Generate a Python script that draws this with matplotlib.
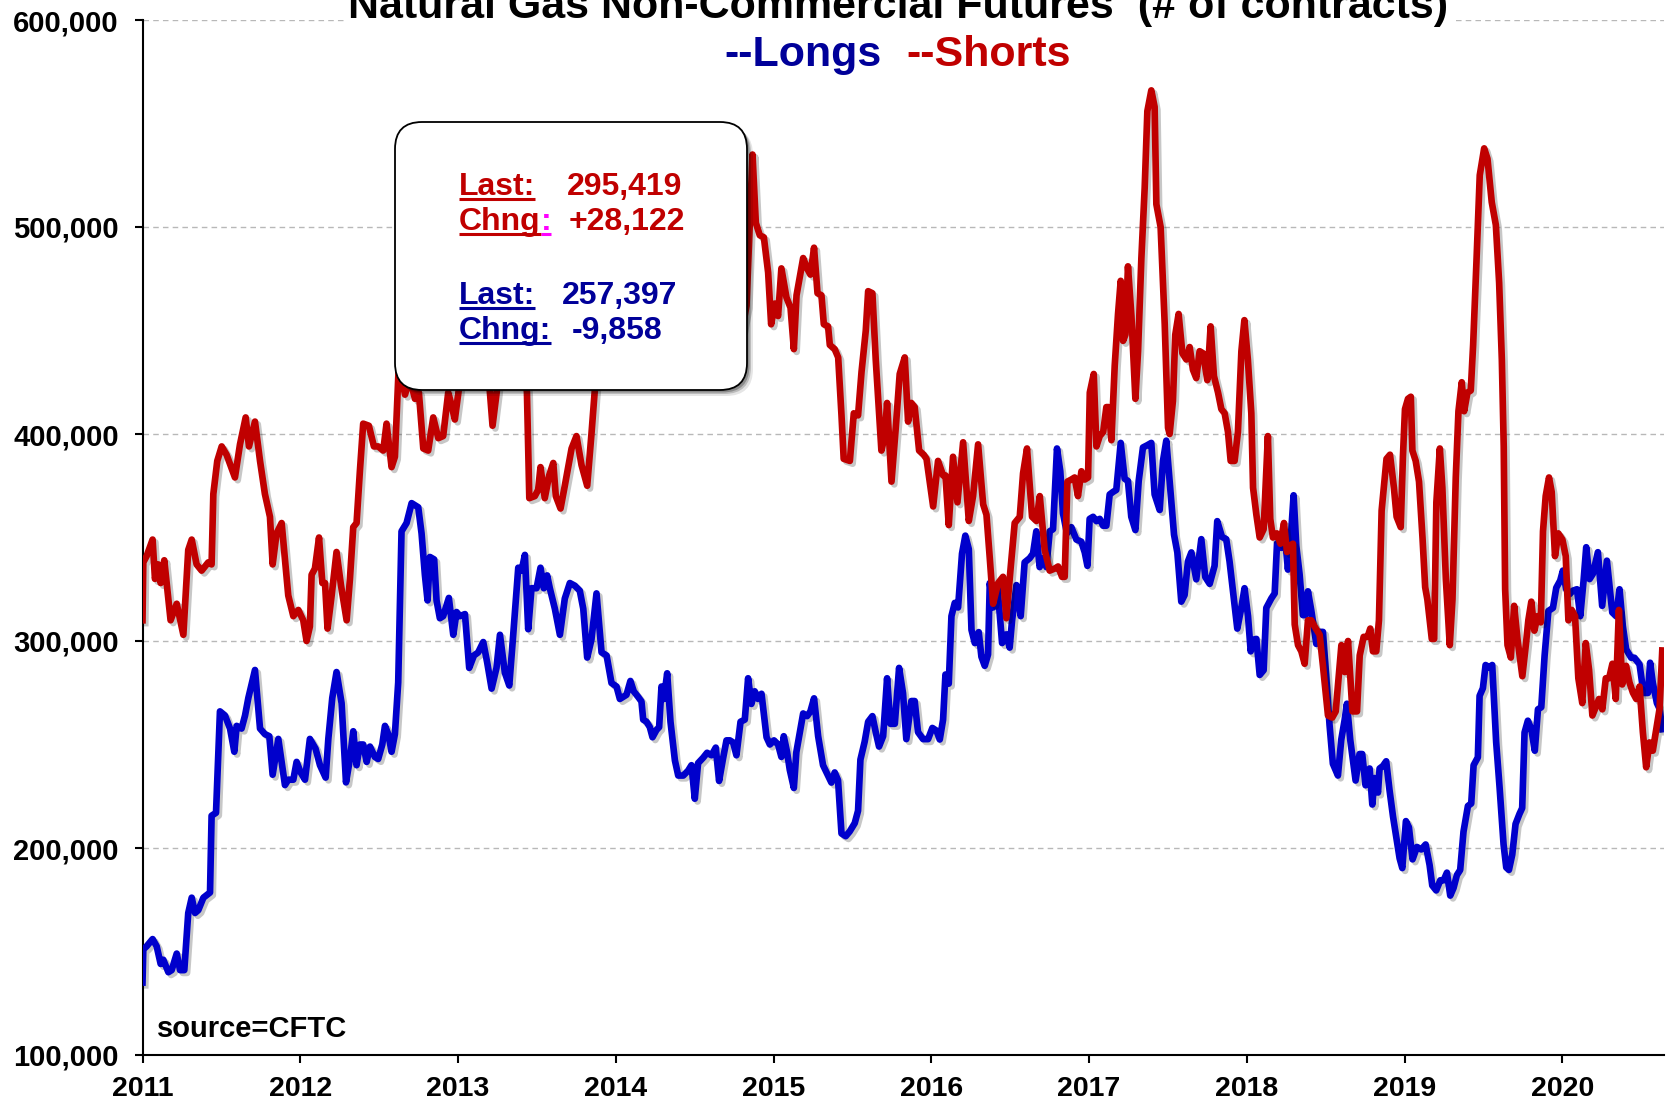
import matplotlib
matplotlib.use('Agg')
import matplotlib.pyplot as plt
from matplotlib.patches import FancyBboxPatch
from matplotlib.lines import Line2D
import matplotlib.patheffects as pe
from matplotlib.ticker import FuncFormatter

# ---------------- data (decimal year, thousands of contracts) ----------------
short_t = [2011.000, 2011.005, 2011.026, 2011.064, 2011.079, 2011.100, 2011.115, 2011.138, 2011.164, 2011.178,
           2011.217, 2011.259, 2011.290, 2011.312, 2011.343, 2011.375, 2011.417, 2011.438, 2011.449, 2011.474,
           2011.502, 2011.533, 2011.586, 2011.618, 2011.654, 2011.675, 2011.713, 2011.745, 2011.776, 2011.808,
           2011.825, 2011.850, 2011.882, 2011.924, 2011.956, 2011.988, 2012.019, 2012.040, 2012.061, 2012.072,
           2012.093, 2012.119, 2012.140, 2012.157, 2012.173, 2012.199, 2012.230, 2012.258, 2012.294, 2012.315,
           2012.336, 2012.357, 2012.378, 2012.399, 2012.435, 2012.467, 2012.494, 2012.526, 2012.547, 2012.579,
           2012.600, 2012.625, 2012.664, 2012.695, 2012.727, 2012.752, 2012.780, 2012.811, 2012.843, 2012.875,
           2012.906, 2012.938, 2012.959, 2012.980, 2013.006, 2013.040, 2013.075, 2013.100, 2013.130, 2013.160,
           2013.190, 2013.219, 2013.245, 2013.270, 2013.300, 2013.330, 2013.360, 2013.390, 2013.420, 2013.437,
           2013.452, 2013.487, 2013.508, 2013.523, 2013.550, 2013.578, 2013.604, 2013.620, 2013.650, 2013.677,
           2013.720, 2013.751, 2013.783, 2013.819, 2013.846, 2013.868, 2013.910, 2013.950, 2014.000, 2014.050,
           2014.100, 2014.150, 2014.200, 2014.250, 2014.300, 2014.350, 2014.400, 2014.450, 2014.500, 2014.550,
           2014.600, 2014.650, 2014.700, 2014.750, 2014.800, 2014.829, 2014.867, 2014.888, 2014.913, 2014.939,
           2014.966, 2014.985, 2015.008, 2015.029, 2015.050, 2015.082, 2015.108, 2015.129, 2015.146, 2015.167,
           2015.188, 2015.213, 2015.234, 2015.257, 2015.279, 2015.304, 2015.319, 2015.346, 2015.357, 2015.388,
           2015.410, 2015.431, 2015.445, 2015.484, 2015.509, 2015.536, 2015.558, 2015.585, 2015.600, 2015.627,
           2015.648, 2015.684, 2015.705, 2015.720, 2015.748, 2015.775, 2015.800, 2015.832, 2015.853, 2015.874,
           2015.895, 2015.923, 2015.952, 2015.970, 2016.012, 2016.043, 2016.075, 2016.090, 2016.111, 2016.138,
           2016.166, 2016.202, 2016.238, 2016.265, 2016.297, 2016.329, 2016.350, 2016.371, 2016.392, 2016.424,
           2016.455, 2016.476, 2016.504, 2016.529, 2016.561, 2016.582, 2016.607, 2016.639, 2016.667, 2016.688,
           2016.719, 2016.751, 2016.783, 2016.804, 2016.829, 2016.846, 2016.863, 2016.888, 2016.909, 2016.930,
           2016.952, 2016.973, 2016.994, 2017.005, 2017.030, 2017.047, 2017.068, 2017.090, 2017.110, 2017.125,
           2017.142, 2017.163, 2017.184, 2017.201, 2017.216, 2017.231, 2017.247, 2017.269, 2017.294, 2017.311,
           2017.332, 2017.353, 2017.370, 2017.395, 2017.416, 2017.427, 2017.454, 2017.480, 2017.501, 2017.511,
           2017.532, 2017.547, 2017.568, 2017.592, 2017.617, 2017.638, 2017.659, 2017.680, 2017.701, 2017.723,
           2017.750, 2017.771, 2017.792, 2017.818, 2017.839, 2017.860, 2017.881, 2017.898, 2017.923, 2017.944,
           2017.966, 2017.985, 2018.007, 2018.029, 2018.040, 2018.061, 2018.082, 2018.107, 2018.134, 2018.149,
           2018.166, 2018.191, 2018.213, 2018.236, 2018.255, 2018.272, 2018.293, 2018.304, 2018.325, 2018.346,
           2018.367, 2018.388, 2018.409, 2018.430, 2018.462, 2018.483, 2018.515, 2018.542, 2018.564, 2018.585,
           2018.600, 2018.621, 2018.642, 2018.670, 2018.699, 2018.716, 2018.741, 2018.766, 2018.783, 2018.800,
           2018.821, 2018.838, 2018.855, 2018.886, 2018.908, 2018.933, 2018.950, 2018.976, 2018.990, 2019.003,
           2019.022, 2019.040, 2019.050, 2019.071, 2019.092, 2019.114, 2019.131, 2019.145, 2019.173, 2019.188,
           2019.202, 2019.224, 2019.240, 2019.262, 2019.287, 2019.304, 2019.325, 2019.342, 2019.363, 2019.378,
           2019.399, 2019.420, 2019.435, 2019.456, 2019.477, 2019.505, 2019.526, 2019.553, 2019.579, 2019.600,
           2019.617, 2019.629, 2019.638, 2019.653, 2019.674, 2019.695, 2019.716, 2019.747, 2019.769, 2019.785,
           2019.804, 2019.823, 2019.843, 2019.864, 2019.878, 2019.895, 2019.916, 2019.933, 2019.954, 2019.975,
           2020.001, 2020.022, 2020.039, 2020.060, 2020.081, 2020.102, 2020.127, 2020.149, 2020.170, 2020.191,
           2020.212, 2020.233, 2020.254, 2020.276, 2020.297, 2020.318, 2020.339, 2020.359, 2020.380, 2020.405,
           2020.426, 2020.448, 2020.469, 2020.490, 2020.511, 2020.532, 2020.553, 2020.574, 2020.595, 2020.617,
           2020.634]
short_v = [310, 338, 341, 349, 330, 337, 328, 339, 320, 310,
           318, 303, 344, 349, 337, 334, 338, 337, 371, 387,
           394, 390, 379, 395, 408, 394, 406, 387, 371, 360,
           337, 352, 357, 322, 312, 315, 310, 300, 307, 332,
           335, 350, 328, 328, 306, 322, 343, 327, 310, 330,
           355, 357, 382, 405, 404, 394, 394, 392, 405, 384,
           389, 434, 419, 427, 417, 420, 393, 392, 408, 398,
           399, 420, 414, 407, 422, 435, 428, 445, 438, 450,
           432, 404, 420, 442, 455, 448, 460, 450, 438, 420,
           369, 370, 373, 384, 369, 380, 386, 370, 364, 375,
           393, 399, 385, 375, 400, 422, 440, 448, 455, 440,
           465, 450, 470, 460, 480, 470, 490, 500, 485, 470,
           480, 465, 475, 455, 450, 462, 535, 502, 496, 495,
           478, 453, 463, 457, 480, 466, 461, 441, 467, 476,
           485, 480, 477, 490, 468, 467, 453, 452, 443, 441,
           437, 409, 388, 387, 410, 409, 430, 450, 469, 468,
           436, 392, 399, 415, 377, 403, 429, 437, 406, 415,
           413, 392, 390, 388, 365, 387, 380, 380, 356, 389,
           367, 396, 358, 370, 395, 366, 361, 340, 318, 328,
           331, 311, 336, 357, 360, 381, 393, 360, 358, 370,
           344, 334, 335, 336, 331, 331, 377, 378, 379, 370,
           382, 378, 379, 420, 429, 394, 399, 401, 413, 413,
           397, 433, 458, 474, 445, 448, 481, 457, 417, 440,
           485, 519, 556, 566, 558, 511, 500, 453, 403, 400,
           416, 448, 458, 439, 436, 442, 431, 427, 440, 439,
           426, 452, 428, 420, 412, 410, 401, 387, 387, 401,
           440, 455, 436, 410, 374, 361, 350, 354, 399, 359,
           350, 352, 347, 357, 343, 346, 347, 308, 298, 295,
           289, 310, 310, 307, 303, 288, 264, 263, 266, 285,
           298, 285, 300, 266, 266, 293, 302, 302, 306, 295,
           295, 310, 363, 388, 390, 374, 360, 355, 389, 412,
           417, 418, 392, 387, 377, 350, 326, 320, 301, 301,
           367, 393, 374, 330, 298, 320, 379, 411, 425, 411,
           420, 421, 443, 483, 525, 538, 533, 512, 501, 473,
           436, 394, 325, 298, 292, 317, 301, 283, 298, 310,
           319, 305, 312, 309, 353, 370, 379, 372, 341, 352,
           349, 341, 310, 315, 312, 282, 270, 299, 286, 264,
           268, 272, 267, 282, 282, 289, 272, 315, 279, 288,
           280, 275, 272, 278, 256, 239, 251, 247, 257, 267.297,
           295.419]

long_t = [2011.000, 2011.005, 2011.026, 2011.064, 2011.090, 2011.115, 2011.132, 2011.164, 2011.185, 2011.217,
          2011.238, 2011.265, 2011.290, 2011.312, 2011.333, 2011.354, 2011.386, 2011.428, 2011.438, 2011.466,
          2011.491, 2011.523, 2011.555, 2011.582, 2011.597, 2011.628, 2011.650, 2011.671, 2011.713, 2011.745,
          2011.776, 2011.804, 2011.825, 2011.861, 2011.903, 2011.924, 2011.956, 2011.977, 2012.002, 2012.030,
          2012.061, 2012.097, 2012.125, 2012.161, 2012.178, 2012.203, 2012.230, 2012.262, 2012.290, 2012.315,
          2012.336, 2012.357, 2012.378, 2012.399, 2012.421, 2012.442, 2012.473, 2012.494, 2012.520, 2012.537,
          2012.558, 2012.579, 2012.600, 2012.621, 2012.642, 2012.674, 2012.706, 2012.748, 2012.769, 2012.790,
          2012.807, 2012.822, 2012.849, 2012.864, 2012.885, 2012.906, 2012.942, 2012.970, 2012.991, 2013.012,
          2013.044, 2013.071, 2013.101, 2013.128, 2013.160, 2013.185, 2013.213, 2013.244, 2013.266, 2013.297,
          2013.325, 2013.350, 2013.382, 2013.403, 2013.424, 2013.445, 2013.466, 2013.498, 2013.523, 2013.544,
          2013.565, 2013.582, 2013.614, 2013.646, 2013.677, 2013.709, 2013.741, 2013.772, 2013.794, 2013.819,
          2013.846, 2013.878, 2013.910, 2013.942, 2013.973, 2014.005, 2014.026, 2014.047, 2014.068, 2014.093,
          2014.114, 2014.142, 2014.163, 2014.174, 2014.195, 2014.216, 2014.233, 2014.258, 2014.275, 2014.290,
          2014.305, 2014.326, 2014.347, 2014.375, 2014.396, 2014.428, 2014.459, 2014.480, 2014.501, 2014.522,
          2014.554, 2014.579, 2014.607, 2014.634, 2014.655, 2014.681, 2014.702, 2014.723, 2014.744, 2014.765,
          2014.791, 2014.818, 2014.839, 2014.860, 2014.881, 2014.902, 2014.924, 2014.939, 2014.956, 2014.977,
          2015.003, 2015.029, 2015.050, 2015.065, 2015.086, 2015.103, 2015.129, 2015.145, 2015.171, 2015.188,
          2015.213, 2015.234, 2015.257, 2015.283, 2015.314, 2015.346, 2015.367, 2015.388, 2015.409, 2015.431,
          2015.458, 2015.483, 2015.515, 2015.536, 2015.551, 2015.578, 2015.600, 2015.627, 2015.648, 2015.669,
          2015.695, 2015.720, 2015.741, 2015.769, 2015.796, 2015.821, 2015.842, 2015.874, 2015.895, 2015.916,
          2015.948, 2015.980, 2016.007, 2016.033, 2016.054, 2016.075, 2016.090, 2016.111, 2016.128, 2016.149,
          2016.170, 2016.195, 2016.216, 2016.238, 2016.255, 2016.276, 2016.301, 2016.318, 2016.339, 2016.360,
          2016.371, 2016.392, 2016.419, 2016.449, 2016.476, 2016.497, 2016.512, 2016.540, 2016.567, 2016.592,
          2016.624, 2016.645, 2016.666, 2016.687, 2016.709, 2016.730, 2016.751, 2016.772, 2016.797, 2016.818,
          2016.835, 2016.860, 2016.888, 2016.920, 2016.951, 2016.973, 2016.990, 2017.004, 2017.026, 2017.047,
          2017.068, 2017.089, 2017.110, 2017.131, 2017.152, 2017.173, 2017.201, 2017.226, 2017.247, 2017.268,
          2017.294, 2017.315, 2017.342, 2017.370, 2017.395, 2017.416, 2017.448, 2017.469, 2017.490, 2017.511,
          2017.539, 2017.560, 2017.585, 2017.606, 2017.627, 2017.649, 2017.680, 2017.712, 2017.737, 2017.765,
          2017.796, 2017.813, 2017.843, 2017.870, 2017.891, 2017.919, 2017.940, 2017.965, 2017.986, 2018.008,
          2018.025, 2018.039, 2018.061, 2018.082, 2018.107, 2018.124, 2018.156, 2018.177, 2018.192, 2018.219,
          2018.240, 2018.261, 2018.282, 2018.297, 2018.314, 2018.335, 2018.356, 2018.373, 2018.388, 2018.409,
          2018.441, 2018.462, 2018.483, 2018.504, 2018.525, 2018.546, 2018.578, 2018.599, 2018.620, 2018.635,
          2018.656, 2018.690, 2018.715, 2018.732, 2018.753, 2018.779, 2018.796, 2018.810, 2018.832, 2018.842,
          2018.863, 2018.884, 2018.905, 2018.927, 2018.948, 2018.969, 2018.986, 2019.009, 2019.028, 2019.051,
          2019.079, 2019.106, 2019.134, 2019.159, 2019.176, 2019.201, 2019.227, 2019.248, 2019.269, 2019.290,
          2019.311, 2019.332, 2019.353, 2019.374, 2019.402, 2019.423, 2019.438, 2019.465, 2019.476, 2019.497,
          2019.514, 2019.539, 2019.556, 2019.581, 2019.603, 2019.628, 2019.645, 2019.662, 2019.683, 2019.704,
          2019.729, 2019.746, 2019.761, 2019.782, 2019.803, 2019.826, 2019.846, 2019.867, 2019.888, 2019.912,
          2019.941, 2019.962, 2019.987, 2020.004, 2020.025, 2020.046, 2020.067, 2020.093, 2020.114, 2020.135,
          2020.152, 2020.173, 2020.194, 2020.226, 2020.253, 2020.283, 2020.317, 2020.342, 2020.363, 2020.384,
          2020.405, 2020.437, 2020.458, 2020.490, 2020.515, 2020.543, 2020.557, 2020.574, 2020.600, 2020.617,
          2020.634]
long_v = [135, 151, 152.5, 156, 152.5, 144, 146, 140, 141, 149,
          141, 141, 168.6, 176, 168.6, 170, 176, 178.5, 215.6, 217,
          266, 264, 257.7, 246.5, 259, 257.7, 264, 272.5, 286, 257.7,
          255, 254, 235.4, 252.7, 230.4, 233, 233, 241.6, 236.6, 233,
          252.7, 248, 240, 234, 252.7, 272.5, 285, 270, 231.7, 243,
          256.4, 240, 250, 250, 241.6, 249, 244, 243, 250, 259,
          255, 246.5, 255, 280, 353, 357, 366.6, 364.6, 352, 332,
          319.6, 340.6, 339.4, 319.6, 311, 312, 320.8, 303, 314, 312,
          313, 287, 293, 294.5, 299.5, 289.6, 277, 287, 303, 284.7,
          278.5, 303, 335.4, 334, 341.6, 305.7, 325.5, 325.5, 335.4, 325.5,
          331.7, 325.5, 315.6, 303, 320.5, 328, 326.7, 324.3, 315.6, 292,
          300.7, 323, 294.5, 293, 279.7, 278, 272, 273, 274, 280.7,
          275.7, 273, 270.8, 262, 261, 258.4, 253.5, 257, 258.4, 278,
          272, 284.4, 261, 242.3, 235, 235, 237.4, 240, 223.8, 241,
          243.6, 246, 244.8, 248.5, 232.4, 243.6, 252, 252, 251, 244.8,
          261, 262, 282, 269.6, 275.7, 272, 274.5, 264.6, 253.5, 250,
          252, 250, 244, 254, 246.4, 237.8, 229, 246.4, 257.5, 265,
          263.7, 266, 272.3, 254, 240, 235, 231.6, 236.5, 232.8, 207,
          205.7, 208, 212, 218, 242.7, 251.4, 261, 263.7, 256, 249,
          254, 282, 260, 260, 287, 274.8, 252.6, 271, 271, 256,
          252.6, 252.6, 258, 256.7, 252.4, 262, 283.8, 279.4, 312, 318.4,
          316.2, 342.2, 350.9, 344.4, 305.4, 299, 304.3, 292.4, 288, 293.5,
          328, 316.2, 327, 299, 303.2, 296.8, 309.7, 327, 312, 338,
          340, 342.2, 353, 335.7, 340, 335.7, 353, 354, 393, 382,
          361.7, 352, 355, 349, 348, 342.8, 336.3, 359, 360, 357.9,
          359, 355.7, 355.7, 370.8, 372, 373, 395.7, 378.4, 377.3, 360,
          353.6, 377.3, 393.5, 394.6, 395.7, 370.8, 363.3, 387, 396.8, 377.3,
          351.4, 342.8, 319, 322.2, 338.4, 342.8, 329.8, 349.2, 330.9, 327.6,
          336.3, 357.9, 350.3, 349.2, 338.4, 320, 306, 315.8, 325.5, 312,
          295, 300.6, 301, 283.6, 285.9, 316, 320.6, 323, 347.2, 345,
          352, 334.5, 353, 370.4, 346, 332.2, 312.5, 312.5, 324, 314.8,
          298.6, 304.4, 304.4, 282.4, 259.3, 240.7, 235, 252.3, 261.6, 269.7,
          252.3, 232.6, 245.4, 245.4, 230.3, 238.4, 221, 233.8, 226.8, 238.4,
          239.6, 241.9, 228, 215.3, 205, 195, 190.3, 213, 210, 194.5,
          200.5, 199.3, 201.7, 191.8, 181.9, 179.5, 184.4, 184.4, 188.1, 177,
          180.7, 186.9, 189.4, 207.9, 220.3, 221.5, 240, 243.8, 273.5, 277.2,
          288.4, 287.1, 288.4, 251.2, 229, 201.7, 190.6, 189.4, 196.8, 211.6,
          216.5, 219.3, 255.8, 261.5, 257.7, 247, 267, 268, 292.8, 314.5,
          316, 325.7, 329.2, 334, 325, 322.6, 324.3, 325, 312, 329,
          345.3, 329.9, 332.4, 342.9, 317, 338.8, 313.8, 312, 325, 307.3,
          296, 291.9, 291.9, 288.7, 274.9, 274.9, 289.5, 279.8, 270, 267.255,
          257.397]

years = list(range(2011, 2021))
y_ticks = [100000, 200000, 300000, 400000, 500000, 600000]

title_line1 = 'Natural Gas Non-Commercial Futures  (# of contracts)'
legend_longs = '--Longs'
legend_shorts = '--Shorts'
source_text = 'source=CFTC'
short_last, short_chng = '295,419', '+28,122'
long_last, long_chng = '257,397', '-9,858'

RED = '#C00000'
BLUE_LINE = '#0000CC'
BLUE_TXT = '#000099'
MAGENTA = '#FF00FF'

# ---------------- figure ----------------
plt.rcParams['font.family'] = ['Liberation Sans', 'DejaVu Sans']
plt.rcParams['font.weight'] = 'bold'

W, H = 1667, 1104
fig = plt.figure(figsize=(W / 100, H / 100), dpi=100)
L, R, T, B = 142.5, 1664, 20, 1055
ax = fig.add_axes([L / W, 1 - B / H, (R - L) / W, (B - T) / H])

shadow = [pe.SimpleLineShadow(offset=(2, -2), shadow_color='black', alpha=0.22), pe.Normal()]
ax.plot(long_t, [v * 1000 for v in long_v], color=BLUE_LINE, lw=4.8,
        solid_joinstyle='round', path_effects=shadow, zorder=3)
ax.plot(short_t, [v * 1000 for v in short_v], color=RED, lw=4.8,
        solid_joinstyle='round', path_effects=shadow, zorder=4)

ax.set_xlim(2011, 2020.645)
ax.set_ylim(100000, 600000)
ax.set_xticks(years)
ax.set_xticklabels([str(y) for y in years])
ax.set_yticks(y_ticks)
ax.yaxis.set_major_formatter(FuncFormatter(lambda v, p: f'{int(v):,}'))
ax.yaxis.grid(True, color='#B8B8B8', linestyle=(0, (4, 3)), linewidth=1.0)
ax.set_axisbelow(True)
for s in ['top', 'right']:
    ax.spines[s].set_visible(False)
for s in ['left', 'bottom']:
    ax.spines[s].set_linewidth(1.5)
    ax.spines[s].set_color('black')
ax.tick_params(axis='y', direction='out', length=6, width=1.5, labelsize=21, pad=11)
ax.tick_params(axis='x', direction='out', length=6, width=1.5, labelsize=20.5, pad=9)
for lbl in ax.get_xticklabels() + ax.get_yticklabels():
    lbl.set_fontweight('bold')

# ---------------- titles ----------------
fig.text(898 / W, 1 - 18 / H, title_line1, ha='center', va='baseline', fontsize=31,
         fontweight='bold', color='black',
         bbox=dict(facecolor='white', edgecolor='none', pad=3))
fig.text(882 / W, 1 - 66 / H, legend_longs, ha='right', va='baseline', fontsize=31,
         fontweight='bold', color=BLUE_TXT)
fig.text(906 / W, 1 - 66 / H, legend_shorts, ha='left', va='baseline', fontsize=31,
         fontweight='bold', color=RED)

fig.text(157 / W, 1 - 1037 / H, source_text, ha='left', va='baseline', fontsize=21,
         fontweight='bold', color='black')

# ---------------- annotation box ----------------
def inch(x, y):
    return x / 100, (H - y) / 100

bx0, by0, bx1, by1 = 395, 122, 747, 390
for k, a in [(6, 0.10), (4, 0.18), (2.5, 0.25)]:
    sh = FancyBboxPatch(inch(bx0 + k, by1 + k), (bx1 - bx0) / 100, (by1 - by0) / 100,
                        boxstyle='round,pad=0,rounding_size=0.27', transform=fig.dpi_scale_trans,
                        facecolor='black', edgecolor='none', alpha=a, zorder=9)
    fig.add_artist(sh)
box = FancyBboxPatch(inch(bx0, by1), (bx1 - bx0) / 100, (by1 - by0) / 100,
                     boxstyle='round,pad=0,rounding_size=0.27', transform=fig.dpi_scale_trans,
                     facecolor='white', edgecolor='black', lw=1.3, zorder=10)
fig.add_artist(box)

tr = fig.dpi_scale_trans
fs = 23
yb1, yb2, yb3, yb4 = 195, 230, 304, 339
t_last_r = fig.text(*inch(459, yb1), 'Last:', transform=tr, fontsize=fs, color=RED, zorder=11, va='baseline')
fig.text(*inch(567, yb1), short_last, transform=tr, fontsize=fs, color=RED, zorder=11, va='baseline')
t_chng_r = fig.text(*inch(459, yb2), 'Chng', transform=tr, fontsize=fs, color=RED, zorder=11, va='baseline')
fig.text(*inch(569, yb2), short_chng, transform=tr, fontsize=fs, color=RED, zorder=11, va='baseline')
t_last_b = fig.text(*inch(459, yb3), 'Last:', transform=tr, fontsize=fs, color=BLUE_TXT, zorder=11, va='baseline')
fig.text(*inch(562, yb3), long_last, transform=tr, fontsize=fs, color=BLUE_TXT, zorder=11, va='baseline')
t_chng_b = fig.text(*inch(459, yb4), 'Chng:', transform=tr, fontsize=fs, color=BLUE_TXT, zorder=11, va='baseline')
fig.text(*inch(572, yb4), long_chng, transform=tr, fontsize=fs, color=BLUE_TXT, zorder=11, va='baseline')

fig.canvas.draw()
rend = fig.canvas.get_renderer()
bb = t_chng_r.get_window_extent(rend)
t_colon = fig.text(bb.x1 / 100, (H - yb2) / 100, ':', transform=tr, fontsize=fs,
                   color=MAGENTA, zorder=11, va='baseline')
fig.canvas.draw()

def underline(t, ybase, color):
    b = t.get_window_extent(rend)
    yy = (H - ybase - 4) / 100
    fig.add_artist(Line2D([b.x0 / 100, b.x1 / 100], [yy, yy], transform=tr,
                          color=color, lw=2.2, zorder=12, solid_capstyle='butt'))

underline(t_last_r, yb1, RED)
underline(t_chng_r, yb2, RED)
underline(t_colon, yb2, MAGENTA)
underline(t_last_b, yb3, BLUE_TXT)
underline(t_chng_b, yb4, BLUE_TXT)

fig.savefig('out.png', dpi=100)
